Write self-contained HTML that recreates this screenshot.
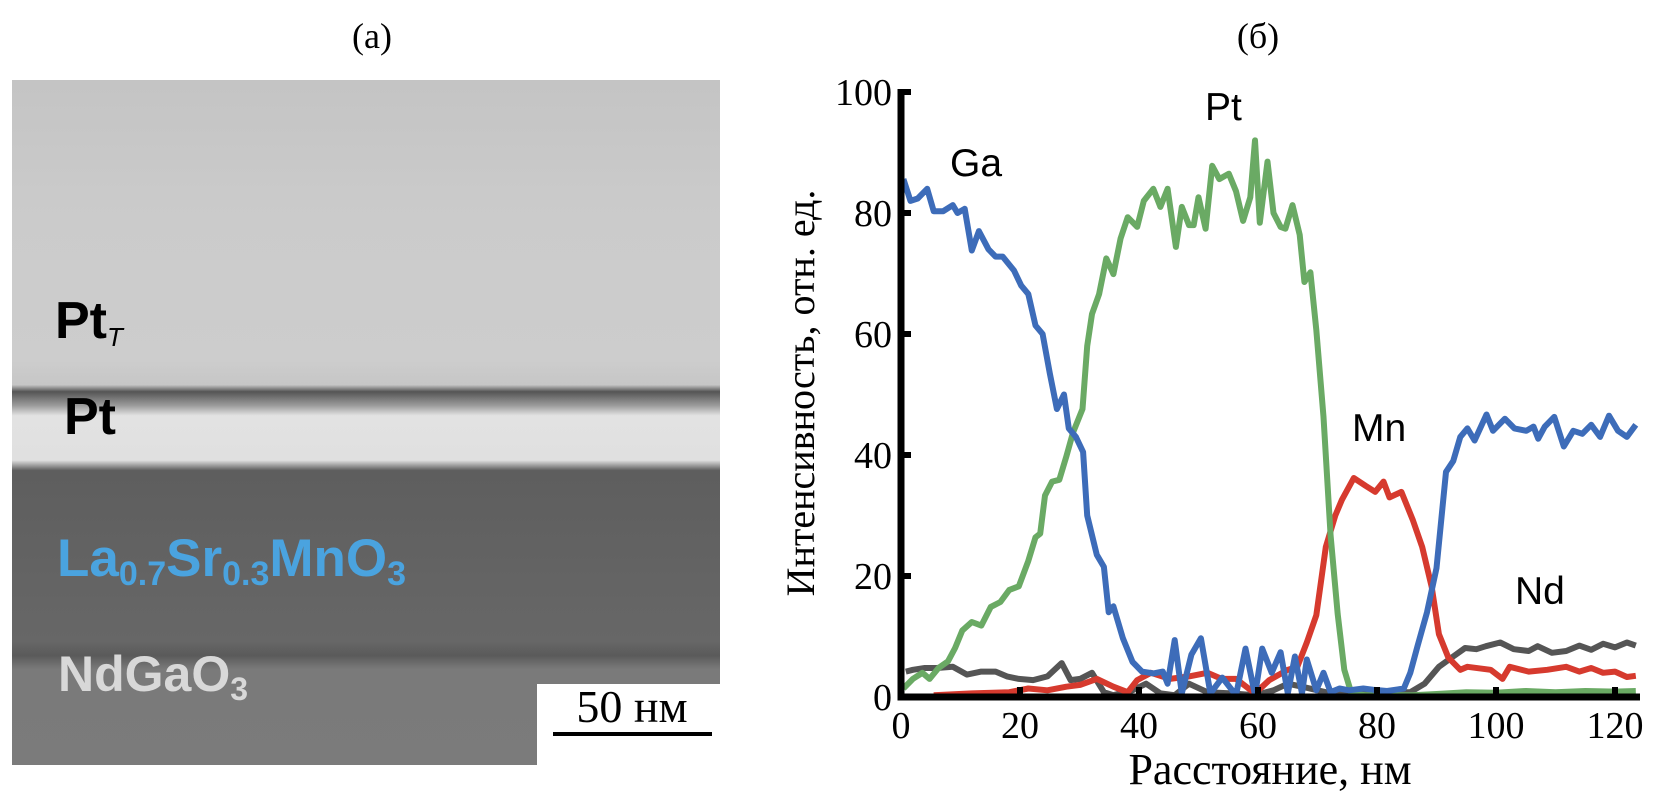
<!DOCTYPE html>
<html><head><meta charset="utf-8"><style>
html,body{margin:0;padding:0;background:#fff;}
svg{display:block;}
</style></head><body>
<svg id="fig" width="1667" height="800" viewBox="0 0 1667 800" xmlns="http://www.w3.org/2000/svg">
<defs>
<linearGradient id="imgGrad" x1="0" y1="0" x2="0" y2="1">
<stop offset="0" stop-color="#c4c4c4"/>
<stop offset="0.2" stop-color="#cbcbcb"/>
<stop offset="0.41" stop-color="#cdcdcd"/>
<stop offset="0.445" stop-color="#c6c6c6"/>
<stop offset="0.455" stop-color="#555"/>
<stop offset="0.475" stop-color="#9a9a9a"/>
<stop offset="0.49" stop-color="#e2e2e2"/>
<stop offset="0.555" stop-color="#e0e0e0"/>
<stop offset="0.57" stop-color="#5e5e5e"/>
<stop offset="0.82" stop-color="#676767"/>
<stop offset="0.84" stop-color="#5a5a5a"/>
<stop offset="0.86" stop-color="#7a7a7a"/>
<stop offset="1" stop-color="#7b7b7b"/>
</linearGradient>
</defs>
<text x="372" y="48" font-family="Liberation Serif, serif" font-size="36" text-anchor="middle">(a)</text>
<text x="1258" y="48" font-family="Liberation Serif, serif" font-size="36" text-anchor="middle">(б)</text>

<g>
<rect x="12" y="80" width="708" height="685" fill="url(#imgGrad)"/>
<text x="55" y="338" font-family="Liberation Sans, sans-serif" font-weight="bold" font-size="52" fill="#000">Pt<tspan font-size="26" font-style="italic" font-weight="normal" dy="8">T</tspan></text>
<text x="64" y="434" font-family="Liberation Sans, sans-serif" font-weight="bold" font-size="52" fill="#000">Pt</text>
<text x="57" y="576" font-family="Liberation Sans, sans-serif" font-weight="bold" font-size="53" fill="#4aa3df">La<tspan font-size="34" dy="9">0.7</tspan><tspan dy="-9">Sr</tspan><tspan font-size="34" dy="9">0.3</tspan><tspan dy="-9">MnO</tspan><tspan font-size="34" dy="9">3</tspan></text>
<text x="58" y="691" font-family="Liberation Sans, sans-serif" font-weight="bold" font-size="50" fill="#d8d8d8">NdGaO<tspan font-size="32" dy="9">3</tspan></text>
<rect x="537" y="684" width="183" height="81" fill="#fff"/>
<line x1="553" y1="734" x2="712" y2="734" stroke="#000" stroke-width="4"/>
<text x="632" y="722" font-family="Liberation Serif, serif" font-size="46" text-anchor="middle">50 нм</text>
</g>

<g id="chart"></g>
</svg>
<script>
var xTicks = [0, 20, 40, 60, 80, 100, 120];
var yTicks = [0, 20, 40, 60, 80, 100];
var gaX = [0.4,1.6,2.8,4.4,5.5,7.1,8.7,9.5,10.7,11.9,13.1,14.7,15.9,17.1,19,20.2,21.4,22.6,23.8,25,26.2,27.4,28.2,29.4,30.6,31.3,32.9,34.1,34.9,35.7,37.3,38.9,40.5,42.4,44,44.8,46,47.2,48.8,50.4,52,54,56.3,57.9,59.5,60.7,62.3,63.8,65,66.2,67.4,68.2,69.8,71,72.2,73.7,75.3,77.7,79.3,81.7,84.5,85.6,86.8,88.4,90,91.6,92.8,94,95.2,96.4,98.4,99.5,101.5,103.1,105.1,106.3,107.1,108.2,109.8,111.4,113,114.5,116,117.5,119,120.5,122,123.5];
var gaY = [85.6,82,82.4,84,80.3,80.3,81.3,80,80.7,73.8,77,74,72.8,72.8,70.5,68,66.6,61.4,60,53.5,47.6,50,44.4,43,40.5,30,23.5,21.5,14,15,9.7,5.8,4.2,3.9,4.2,2.2,9.4,0.6,7,9.7,0.6,3.2,0.3,8,0.3,8,4,7.4,0.6,6.7,0.6,6.2,1.1,4,0.8,1.4,1.1,1.4,1.2,1,1.4,4,8.4,14,21.3,37.2,39,43,44.4,42.4,46.7,44,46,44.4,44,44.7,42.7,44.7,46.3,41.4,44,43.5,45,43,46.5,44,43,45];
var ptX = [0.4,2,3.6,4.8,6.3,7.9,9.1,10.3,11.9,13.5,15.1,16.7,18.2,19.8,21.4,22.6,23.4,24.2,25.4,26.6,27.8,28.9,30.5,31.3,32.1,33.3,34.5,35.7,36.9,38.1,39.7,40.8,42.4,43.6,44.8,46.2,47.2,48.4,49.2,50,51.2,52.3,53.5,55.1,56.3,57.5,58.7,59.5,60.3,61.6,62.6,63.8,64.6,65.8,67,67.8,68.8,69.8,71,72.2,73.4,74.5,75.7,78,82,86,90,95,100,105,110,115,120,123.5];
var ptY = [1.4,3,4,3,4.8,5.9,8.1,11,12.4,11.8,14.9,15.7,17.7,18.3,22.5,26.4,27,33.3,35.6,35.9,39.8,43.7,47.6,58,63.3,66.6,72.5,69.9,75.8,79.3,77.7,82,84,81,84,74.4,81,78,78,82.6,77.4,87.8,85.6,86.5,83.6,78.7,82.6,92,78.4,88.5,80,77.7,77.4,81.3,76.4,68.6,70.2,60.7,46.3,26.7,13.7,4.5,0.6,0.3,0.3,0.3,0.5,0.8,0.7,1,0.8,1,0.9,1];
var mnX = [5.5,11.9,18.2,21.4,24.6,27.8,30.1,32.9,35.7,38.1,39.7,42,45.2,48.4,51.5,53.9,56.3,59.5,61.9,65,66.6,68.2,69.8,71.4,73,74.1,76.1,78.1,79.7,81.1,82.1,84.1,86,87.6,89.2,90.4,92,94,95.2,99.1,101.1,102.3,105.5,108.6,111.8,114,116,118,120,122,123.5];
var mnY = [0.3,0.6,0.8,1.4,1.1,1.7,2,3,1.7,0.8,2.8,4,3,3.4,4,3,3,0.6,2.8,4.5,5,9,13.5,24.8,30,32.6,36.2,34.9,33.9,35.6,33,33.9,29.3,24.8,18.2,10.4,6.5,4.5,5,4.5,3,5,4.2,4.5,5,4.2,4.8,4,4.2,3.3,3.5];
var ndX = [0.8,2,4,6,8.7,11.1,13.5,15.9,17.8,19.8,22.2,24.6,27,28.5,30.1,32.1,34.1,35.7,38.9,41.2,43.6,46,48.4,51.5,55.5,59.5,62.6,65,67.4,71.4,75.3,79.3,85.6,88,90.4,92.8,94.8,96.7,98.3,100.7,103,105.5,107,109.4,111.8,114,116,118,120,122,123.5];
var ndY = [4.2,4.5,4.8,4.8,5,3.7,4.2,4.2,3.4,3,2.8,3.4,5.6,2.8,3,4,0.8,0.3,1.1,2.2,0.6,0.3,2.2,0.8,0.6,0.3,1.1,2.2,1.7,0.8,0.8,0.8,0.8,2.2,5,6.7,8.1,7.9,8.4,9,7.9,7.6,8.4,7.3,7.6,8.5,7.8,8.8,8.2,9,8.5];

var X0 = 901, X120 = 1615, Y0 = 697, Y100 = 92;
function sx(v){ return X0 + (X120 - X0) * v / 120; }
function sy(v){ return Y0 - (Y0 - Y100) * v / 100; }
var NS = 'http://www.w3.org/2000/svg';
var g = document.getElementById('chart');
function mk(tag, attrs){ var e = document.createElementNS(NS, tag); for (var k in attrs) e.setAttribute(k, attrs[k]); g.appendChild(e); return e; }

function series(xs, ys, color, name){
  var d = '';
  for (var i = 0; i < xs.length; i++) d += (i ? 'L' : 'M') + sx(xs[i]).toFixed(1) + ',' + sy(ys[i]).toFixed(1);
  var p = mk('path', {d: d, fill: 'none', stroke: color, 'stroke-width': 6, 'stroke-linejoin': 'round'});
  
  
}

series(ndX, ndY, '#555555', 'nd-line');
series(mnX, mnY, '#d63a2e', 'mn-line');
series(ptX, ptY, '#6aaa64', 'pt-line');
series(gaX, gaY, '#3d6cb9', 'ga-line');

var ax = mk('path', {d: 'M' + X0 + ',' + (Y100 - 3) + 'L' + X0 + ',' + Y0 + 'L1640,' + Y0, fill: 'none', stroke: '#000', 'stroke-width': 7});



for (var i = 0; i < xTicks.length; i++) {
  var tx = mk('line', {x1: sx(xTicks[i]), x2: sx(xTicks[i]), y1: Y0, y2: Y0 - 10, stroke: '#000', 'stroke-width': 6});
  
  
  var tl = mk('text', {x: sx(xTicks[i]), y: 738, 'font-family': 'Liberation Serif, serif', 'font-size': 38, 'text-anchor': 'middle'});
  tl.textContent = xTicks[i];
  
  
}
for (var j = 0; j < yTicks.length; j++) {
  var ty = mk('line', {x1: X0, x2: X0 + 10, y1: sy(yTicks[j]), y2: sy(yTicks[j]), stroke: '#000', 'stroke-width': 6});
  
  
  var yl = mk('text', {x: 892, y: sy(yTicks[j]) + 13, 'font-family': 'Liberation Serif, serif', 'font-size': 38, 'text-anchor': 'end'});
  yl.textContent = yTicks[j];
  
  
}
var xt = mk('text', {x: 1270, y: 784, 'font-family': 'Liberation Serif, serif', 'font-size': 44, 'text-anchor': 'middle'});
xt.textContent = 'Расстояние, нм';


var yt = mk('text', {x: 0, y: 0, 'font-family': 'Liberation Serif, serif', 'font-size': 40, 'text-anchor': 'middle', transform: 'translate(814,393) rotate(-90)'});
yt.textContent = 'Интенсивность, отн. ед.';



var labels = [['Ga', 950, 176, 'ga-label'], ['Pt', 1205, 120, 'pt-series-label'], ['Mn', 1352, 441, 'mn-label'], ['Nd', 1515, 604, 'nd-label']];
for (var k = 0; k < labels.length; k++) {
  var lt = mk('text', {x: labels[k][1], y: labels[k][2], 'font-family': 'Liberation Sans, sans-serif', 'font-size': 39});
  lt.textContent = labels[k][0];
  
  
}
</script>
</body></html>
